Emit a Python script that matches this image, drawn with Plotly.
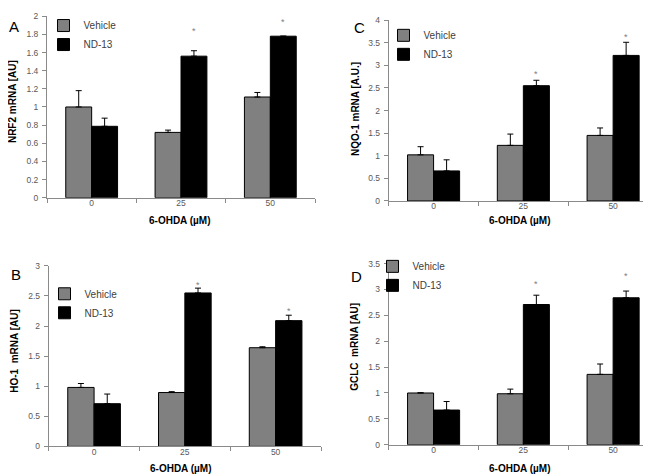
import plotly.graph_objects as go

W, H = 651, 476

categories = ["0", "25", "50"]
series_names = ["Vehicle", "ND-13"]
x_title = "6-OHDA (µM)"

# Panel A - NRF2
nrf2_vehicle = [1.00, 0.72, 1.11]
nrf2_vehicle_err = [0.18, 0.025, 0.05]
nrf2_nd13 = [0.787, 1.56, 1.78]
nrf2_nd13_err = [0.09, 0.06, 0.0]
nrf2_sig = [None, 1.87, 1.97]

# Panel C - NQO-1
nqo1_vehicle = [1.02, 1.23, 1.45]
nqo1_vehicle_err = [0.18, 0.25, 0.165]
nqo1_nd13 = [0.665, 2.55, 3.22]
nqo1_nd13_err = [0.245, 0.12, 0.29]
nqo1_sig = [None, 2.87, 3.69]

# Panel B - HO-1
ho1_vehicle = [0.98, 0.895, 1.64]
ho1_vehicle_err = [0.065, 0.015, 0.016]
ho1_nd13 = [0.71, 2.55, 2.09]
ho1_nd13_err = [0.16, 0.08, 0.09]
ho1_sig = [None, 2.73, 2.30]

# Panel D - GCLC
gclc_vehicle = [1.00, 0.985, 1.36]
gclc_vehicle_err = [0.005, 0.09, 0.20]
gclc_nd13 = [0.67, 2.71, 2.84]
gclc_nd13_err = [0.165, 0.18, 0.13]
gclc_sig = [None, 3.17, 3.32]


def px(x):
    return x / W


def py(y):
    return 1 - y / H


panels = [
    dict(letter="A", ytitle="NRF2 mRNA [AU]", veh=nrf2_vehicle, veh_err=nrf2_vehicle_err,
         nd=nrf2_nd13, nd_err=nrf2_nd13_err, sig=nrf2_sig, yr=[0, 2], dt=0.2,
         box=(39, 307, 3.3, 188.7), letter_pos=(6, 14), ytitle_pos=(4, 91),
         xtitle_pos=(172, 212), legend_pos=(35.5, -2)),
    dict(letter="C", ytitle="NQO-1 mRNA [A.U.]", veh=nqo1_vehicle, veh_err=nqo1_vehicle_err,
         nd=nqo1_nd13, nd_err=nqo1_nd13_err, sig=nqo1_sig, yr=[0, 4], dt=0.5,
         box=(380.7, 650, 7.3, 192), letter_pos=(351, 14.5), ytitle_pos=(348, 98),
         xtitle_pos=(512, 212), legend_pos=(375.5, 8)),
    dict(letter="B", ytitle="HO-1  mRNA [AU]", veh=ho1_vehicle, veh_err=ho1_vehicle_err,
         nd=ho1_nd13, nd_err=ho1_nd13_err, sig=ho1_sig, yr=[0, 3], dt=0.5,
         box=(40.7, 313, 258.3, 442.7), letter_pos=(7.5, 267), ytitle_pos=(7, 345),
         xtitle_pos=(173, 465), legend_pos=(36.5, 272)),
    dict(letter="D", ytitle="GCLC  mRNA [AU]", veh=gclc_vehicle, veh_err=gclc_vehicle_err,
         nd=gclc_nd13, nd_err=gclc_nd13_err, sig=gclc_sig, yr=[0, 3.5], dt=0.5,
         box=(380.7, 650, 256, 441), letter_pos=(348, 269), ytitle_pos=(347, 341),
         xtitle_pos=(512, 465), legend_pos=(364.5, 244)),
]

FONT = "Liberation Sans, Arial, sans-serif"
AXIS_COLOR = "#8a8a8a"
VEH_COLOR = "#808080"
ND_COLOR = "#000000"

fig = go.Figure()
layout = dict(
    width=W, height=H, margin=dict(l=0, r=0, t=0, b=0),
    paper_bgcolor="white", plot_bgcolor="white",
    barmode="group", bargap=0.42, bargroupgap=0,
    font=dict(family=FONT, size=10, color="#000000"),
    showlegend=True,
)
annotations = []

for i, p in enumerate(panels):
    n = "" if i == 0 else str(i + 1)
    xa, ya = "x" + n, "y" + n
    leg = "legend" + n
    x0, x1, y0, y1 = p["box"]
    for name, vals, errs, col in [(series_names[0], p["veh"], p["veh_err"], VEH_COLOR),
                                  (series_names[1], p["nd"], p["nd_err"], ND_COLOR)]:
        fig.add_trace(go.Bar(
            x=categories, y=vals, name=name, xaxis=xa, yaxis=ya, legend=leg,
            legendgroup=leg + name,
            marker=dict(color=col, line=dict(color="#000000", width=1)),
            error_y=dict(type="data", array=errs, arrayminus=[0] * len(errs),
                         symmetric=False, color="#000000", thickness=1, width=3),
            hoverinfo="x+y+name",
        ))
    layout["xaxis" + n] = dict(
        domain=[px(x0), px(x1)], anchor=ya, type="category",
        range=[-0.5, len(categories) - 0.5],
        showline=True, linecolor=AXIS_COLOR, linewidth=1,
        ticks="outside", tickson="boundaries", ticklen=4, tickcolor=AXIS_COLOR,
        showgrid=False, zeroline=False,
        tickfont=dict(size=8.5, color="#595959"), ticklabelstandoff=-3,
        fixedrange=True,
    )
    layout["yaxis" + n] = dict(
        domain=[py(y1), py(y0)], anchor=xa, range=p["yr"], dtick=p["dt"], tick0=0,
        showline=True, linecolor=AXIS_COLOR, linewidth=1,
        ticks="outside", ticklen=4, tickcolor=AXIS_COLOR,
        showgrid=False, zeroline=False,
        tickfont=dict(size=8.5, color="#595959"), ticklabelstandoff=2,
        fixedrange=True,
    )
    lx, ly = p["legend_pos"]
    layout[leg] = dict(
        x=px(lx), y=py(ly), xanchor="left", yanchor="top",
        bgcolor="rgba(0,0,0,0)", font=dict(size=10, color="#404040", family=FONT),
        tracegroupgap=0, itemclick=False, itemdoubleclick=False,
    )
    # panel letter
    annotations.append(dict(
        x=px(p["letter_pos"][0]), y=py(p["letter_pos"][1]), xref="paper", yref="paper",
        text=p["letter"], showarrow=False, xanchor="center", yanchor="middle",
        font=dict(size=15, color="#000000", family=FONT)))
    # y title
    annotations.append(dict(
        x=px(p["ytitle_pos"][0]), y=py(p["ytitle_pos"][1]), xref="paper", yref="paper",
        text="<b>%s</b>" % p["ytitle"], showarrow=False, textangle=-90,
        xanchor="center", yanchor="middle",
        font=dict(size=10, color="#000000", family=FONT)))
    # x title
    annotations.append(dict(
        x=px(p["xtitle_pos"][0]), y=py(p["xtitle_pos"][1]), xref="paper", yref="paper",
        text="<b>%s</b>" % x_title, showarrow=False, xanchor="center", yanchor="middle",
        font=dict(size=10, color="#000000", family=FONT)))
    # significance asterisks
    for ci, s in enumerate(p["sig"]):
        if s is None:
            continue
        annotations.append(dict(
            x=ci, y=s, xref=xa, yref=ya, text="*", showarrow=False,
            xanchor="center", yanchor="middle", xshift=13, yshift=-3,
            font=dict(size=9, color="#808080", family=FONT)))

layout["annotations"] = annotations
fig.update_layout(**layout)
fig.write_html("out.html")
